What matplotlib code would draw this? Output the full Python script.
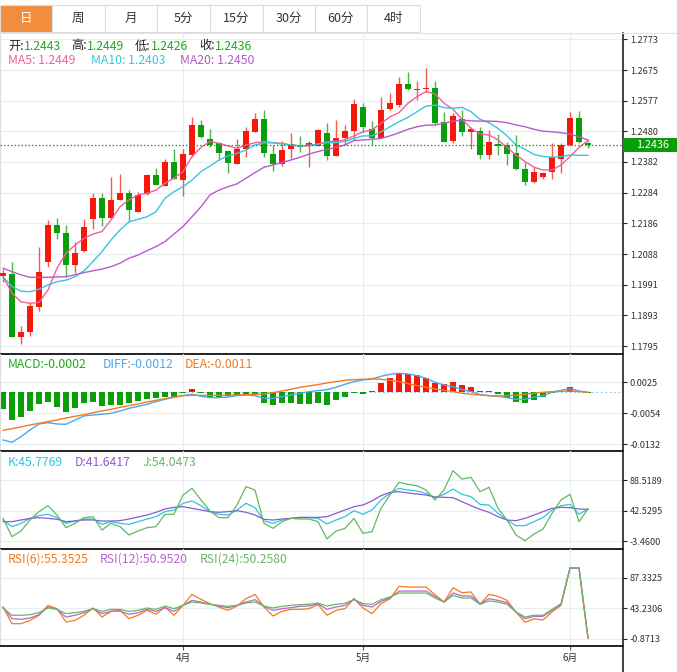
import matplotlib
matplotlib.use('Agg')
import matplotlib.pyplot as plt
from matplotlib.patches import Rectangle
from matplotlib.lines import Line2D
import matplotlib.transforms as mtrans
import numpy as np

plt.rcParams['font.family'] = ['Noto Sans CJK SC', 'DejaVu Sans']

# ---------------- data ----------------
opens = [1.2018, 1.2024, 1.1825, 1.1841, 1.1918, 1.2062, 1.2181, 1.2156, 1.2054, 1.2098,
         1.2201, 1.2268, 1.2204, 1.2260, 1.2283, 1.2223, 1.2279, 1.2340, 1.2306, 1.2381,
         1.2324, 1.2405, 1.2501, 1.2455, 1.2441, 1.2417, 1.2376, 1.2422, 1.2478, 1.2519,
         1.2406, 1.2374, 1.2422, 1.2436, 1.2435, 1.2434, 1.2473, 1.2402, 1.2459, 1.2480,
         1.2557, 1.2487, 1.2459, 1.2551, 1.2563, 1.2630, 1.2612, 1.2614, 1.2618, 1.2509,
         1.2448, 1.2519, 1.2478, 1.2481, 1.2403, 1.2439, 1.2435, 1.2409, 1.2359, 1.2319,
         1.2333, 1.2351, 1.2392, 1.2435, 1.2522, 1.2443]
highs = [1.2040, 1.2064, 1.1859, 1.1936, 1.2112, 1.2197, 1.2203, 1.2181, 1.2126, 1.2200,
         1.2284, 1.2284, 1.2335, 1.2343, 1.2292, 1.2287, 1.2342, 1.2361, 1.2391, 1.2423,
         1.2422, 1.2524, 1.2516, 1.2487, 1.2447, 1.2419, 1.2455, 1.2494, 1.2539, 1.2548,
         1.2436, 1.2449, 1.2473, 1.2465, 1.2450, 1.2487, 1.2507, 1.2516, 1.2500, 1.2583,
         1.2571, 1.2512, 1.2590, 1.2601, 1.2654, 1.2670, 1.2641, 1.2680, 1.2641, 1.2542,
         1.2537, 1.2548, 1.2494, 1.2494, 1.2484, 1.2471, 1.2447, 1.2468, 1.2383, 1.2365,
         1.2349, 1.2443, 1.2441, 1.2542, 1.2545, 1.2449]
lows = [1.2000, 1.1825, 1.1801, 1.1827, 1.1908, 1.2046, 1.2135, 1.2016, 1.2027, 1.2096,
        1.2167, 1.2179, 1.2203, 1.2259, 1.2191, 1.2221, 1.2277, 1.2308, 1.2305, 1.2327,
        1.2274, 1.2399, 1.2459, 1.2428, 1.2388, 1.2346, 1.2375, 1.2399, 1.2477, 1.2399,
        1.2353, 1.2369, 1.2390, 1.2415, 1.2367, 1.2433, 1.2388, 1.2401, 1.2436, 1.2452,
        1.2478, 1.2436, 1.2458, 1.2548, 1.2558, 1.2612, 1.2579, 1.2606, 1.2500, 1.2446,
        1.2443, 1.2465, 1.2422, 1.2392, 1.2392, 1.2404, 1.2372, 1.2356, 1.2308, 1.2314,
        1.2328, 1.2328, 1.2348, 1.2434, 1.2443, 1.2426]
closes = [1.2027, 1.1825, 1.1841, 1.1923, 1.2031, 1.2181, 1.2156, 1.2053, 1.2091, 1.2176,
          1.2268, 1.2204, 1.2261, 1.2283, 1.2229, 1.2277, 1.2340, 1.2309, 1.2381, 1.2328,
          1.2407, 1.2501, 1.2460, 1.2436, 1.2410, 1.2380, 1.2422, 1.2482, 1.2519, 1.2411,
          1.2374, 1.2420, 1.2439, 1.2431, 1.2443, 1.2484, 1.2402, 1.2459, 1.2480, 1.2568,
          1.2493, 1.2459, 1.2548, 1.2569, 1.2630, 1.2613, 1.2616, 1.2618, 1.2507, 1.2447,
          1.2528, 1.2478, 1.2487, 1.2403, 1.2446, 1.2433, 1.2408, 1.2358, 1.2319, 1.2349,
          1.2347, 1.2397, 1.2437, 1.2522, 1.2447, 1.2436]

ma5 = [1.2016, 1.1963, 1.1936, 1.1931, 1.1934, 1.1974, 1.2043, 1.2091, 1.2117, 1.2138,
       1.2152, 1.2160, 1.2197, 1.2239, 1.2261, 1.2277, 1.2282, 1.2292, 1.2314, 1.2330,
       1.2351, 1.2399, 1.2428, 1.2447, 1.2441, 1.2433, 1.2425, 1.2436, 1.2443, 1.2447,
       1.2443, 1.2441, 1.2436, 1.2433, 1.2433, 1.2439, 1.2446, 1.2448, 1.2452, 1.2465,
       1.2478, 1.2484, 1.2505, 1.2526, 1.2539, 1.2569, 1.2590, 1.2606, 1.2599, 1.2569,
       1.2550, 1.2518, 1.2489, 1.2471, 1.2468, 1.2452, 1.2428, 1.2404, 1.2383, 1.2365,
       1.2356, 1.2356, 1.2372, 1.2399, 1.2428, 1.2450]
ma10 = [1.2016, 1.1984, 1.1970, 1.1968, 1.1976, 1.1990, 1.2000, 1.2005, 1.2016, 1.2035,
        1.2064, 1.2096, 1.2133, 1.2165, 1.2191, 1.2199, 1.2207, 1.2223, 1.2266, 1.2287,
        1.2303, 1.2324, 1.2351, 1.2369, 1.2388, 1.2401, 1.2409, 1.2420, 1.2436, 1.2443,
        1.2443, 1.2439, 1.2436, 1.2433, 1.2435, 1.2439, 1.2443, 1.2443, 1.2447, 1.2457,
        1.2465, 1.2465, 1.2478, 1.2494, 1.2510, 1.2524, 1.2542, 1.2560, 1.2563, 1.2555,
        1.2553, 1.2556, 1.2542, 1.2518, 1.2507, 1.2489, 1.2465, 1.2436, 1.2422, 1.2406,
        1.2399, 1.2397, 1.2399, 1.2404, 1.2403, 1.2403]
ma20 = [1.2043, 1.2032, 1.2022, 1.2014, 1.2014, 1.2014, 1.2015, 1.2016, 1.2022, 1.2029,
        1.2035, 1.2040, 1.2048, 1.2059, 1.2075, 1.2085, 1.2099, 1.2112, 1.2128, 1.2152,
        1.2176, 1.2207, 1.2239, 1.2277, 1.2292, 1.2303, 1.2312, 1.2330, 1.2348, 1.2365,
        1.2372, 1.2380, 1.2388, 1.2397, 1.2407, 1.2415, 1.2422, 1.2428, 1.2436, 1.2450,
        1.2452, 1.2454, 1.2457, 1.2465, 1.2475, 1.2486, 1.2494, 1.2499, 1.2500, 1.2505,
        1.2512, 1.2515, 1.2513, 1.2512, 1.2512, 1.2511, 1.2507, 1.2500, 1.2494, 1.2486,
        1.2480, 1.2478, 1.2475, 1.2471, 1.2462, 1.2452]

macd_hist = [-0.00434, -0.00706, -0.00638, -0.00476, -0.00306, -0.00238, -0.00383, -0.00493, -0.00408, -0.00281,
             -0.00238, -0.00340, -0.00323, -0.00323, -0.00264, -0.00213, -0.00179, -0.00136, -0.00128, -0.00111,
             -0.00009, 0.00085, -0.00017, -0.00111, -0.00128, -0.00085, -0.00068, -0.00051, -0.00043, -0.00281,
             -0.00323, -0.00281, -0.00281, -0.00289, -0.00289, -0.00264, -0.00315, -0.00187, -0.00119, -0.00009,
             -0.00051, 0.00034, 0.00238, 0.00357, 0.00468, 0.00459, 0.00442, 0.00374, 0.00230, 0.00204,
             0.00264, 0.00187, 0.00136, 0.00034, 0.00034, -0.00034, -0.00136, -0.00238, -0.00264, -0.00187,
             -0.00119, -0.00009, 0.00034, 0.00128, 0.00017, -0.00017]
diff = [-0.01216, -0.01275, -0.01131, -0.00961, -0.00808, -0.00774, -0.00808, -0.00816, -0.00706, -0.00604,
        -0.00578, -0.00561, -0.00536, -0.00476, -0.00408, -0.00357, -0.00306, -0.00238, -0.00179, -0.00128,
        -0.00085, -0.00051, -0.00102, -0.00136, -0.00136, -0.00119, -0.00085, -0.00068, -0.00085, -0.00153,
        -0.00153, -0.00111, -0.00068, -0.00026, 0.00017, 0.00043, 0.00068, 0.00128, 0.00204, 0.00272,
        0.00315, 0.00340, 0.00408, 0.00459, 0.00485, 0.00468, 0.00425, 0.00357, 0.00255, 0.00187,
        0.00145, 0.00068, 0.00017, -0.00060, -0.00085, -0.00102, -0.00136, -0.00179, -0.00179, -0.00128,
        -0.00085, 0.00000, 0.00051, 0.00094, 0.00034, 0.00000]
dea = [-0.00969, -0.00927, -0.00884, -0.00833, -0.00791, -0.00748, -0.00706, -0.00655, -0.00612, -0.00570,
       -0.00519, -0.00476, -0.00434, -0.00383, -0.00340, -0.00298, -0.00247, -0.00204, -0.00162, -0.00119,
       -0.00085, -0.00077, -0.00077, -0.00077, -0.00077, -0.00068, -0.00068, -0.00060, -0.00051, -0.00043,
       -0.00009, 0.00034, 0.00077, 0.00128, 0.00162, 0.00196, 0.00238, 0.00272, 0.00306, 0.00323,
       0.00332, 0.00340, 0.00332, 0.00306, 0.00272, 0.00221, 0.00170, 0.00128, 0.00085, 0.00051,
       0.00017, -0.00026, -0.00051, -0.00068, -0.00085, -0.00094, -0.00085, -0.00077, -0.00051, -0.00026,
       0.00000, 0.00017, 0.00026, 0.00034, 0.00017, 0.00000]

k_vals = [28.2, 18.2, 23.2, 30.7, 34.7, 36.8, 31.7, 23.2, 26.7, 29.7,
          29.7, 21.7, 25.7, 23.2, 21.7, 25.7, 29.7, 33.2, 40.8, 43.3,
          53.3, 56.9, 49.8, 40.8, 36.8, 35.7, 43.3, 53.3, 46.8, 26.7,
          23.2, 28.2, 30.7, 31.7, 31.7, 30.7, 22.2, 28.2, 33.2, 42.3,
          36.8, 43.3, 58.4, 68.4, 75.9, 73.4, 71.9, 68.4, 61.9, 66.9,
          74.9, 66.9, 63.4, 51.8, 50.8, 38.3, 28.2, 19.7, 19.7, 25.7,
          31.7, 43.3, 49.8, 51.8, 36.8, 44.8]
d_vals = [25.7, 25.7, 28.2, 30.7, 31.7, 30.7, 29.2, 25.7, 26.7, 28.2,
          28.2, 26.7, 26.7, 27.2, 29.7, 32.7, 35.7, 39.8, 44.8, 47.3,
          48.3, 45.8, 43.3, 40.8, 39.8, 40.8, 42.3, 39.8, 35.7, 29.2,
          28.2, 29.7, 30.7, 32.2, 32.2, 32.2, 33.2, 38.3, 43.3, 48.3,
          50.8, 56.9, 64.9, 69.9, 70.9, 68.9, 67.4, 65.9, 62.9, 62.4,
          61.9, 55.8, 49.8, 44.3, 39.8, 33.2, 28.2, 27.2, 30.7, 35.7,
          40.8, 45.8, 47.3, 46.8, 44.8, 44.3]
j_vals = [30.7, 3.1, 11.6, 28.2, 40.8, 49.8, 35.7, 16.6, 23.2, 31.7,
          33.2, 13.1, 23.2, 18.2, 5.6, 11.6, 16.6, 18.2, 36.8, 36.8,
          65.9, 75.9, 58.4, 41.8, 31.7, 31.7, 50.8, 78.4, 73.4, 23.2,
          15.6, 25.7, 30.7, 29.7, 29.7, 25.7, -0.4, 11.6, 15.6, 30.7,
          8.1, 10.6, 45.8, 65.9, 85.0, 82.0, 80.0, 73.4, 58.4, 73.4,
          102.6, 90.0, 92.5, 70.9, 77.5, 45.8, 28.2, 5.6, -3.0, 7.1,
          14.6, 38.3, 58.4, 66.9, 25.7, 44.8]

rsi6 = [44.9, 20.8, 20.8, 25.6, 32.9, 47.3, 42.5, 23.2, 25.6, 32.9,
        43.5, 30.4, 38.6, 40.1, 28.0, 32.9, 40.1, 34.3, 44.9, 32.9,
        47.3, 63.2, 56.0, 49.7, 44.9, 40.1, 46.3, 56.9, 63.2, 44.9,
        31.9, 38.6, 41.5, 41.5, 42.5, 48.3, 32.9, 40.1, 42.5, 56.9,
        43.5, 35.3, 49.7, 56.9, 74.8, 73.8, 73.8, 73.8, 62.7, 52.1,
        72.9, 65.6, 66.6, 48.8, 63.2, 60.3, 54.5, 37.7, 22.7, 28.0,
        26.1, 37.7, 47.3, 101.3, 101.3, 0.1]
rsi12 = [44.9, 28.0, 27.1, 29.0, 33.8, 44.9, 41.5, 30.4, 32.9, 36.7,
         42.5, 35.3, 38.6, 39.1, 34.3, 36.7, 41.5, 38.6, 43.9, 38.6,
         47.3, 54.5, 52.1, 48.8, 46.3, 43.9, 47.3, 52.1, 55.5, 45.9,
         40.1, 42.5, 43.9, 45.9, 46.3, 49.7, 41.5, 44.9, 47.3, 56.0,
         47.3, 44.9, 53.1, 57.9, 68.0, 68.0, 68.0, 68.0, 60.3, 52.1,
         65.1, 60.8, 60.8, 49.7, 56.9, 54.5, 51.2, 37.7, 28.0, 31.4,
         31.4, 40.1, 48.8, 101.3, 101.3, 0.1]
rsi24 = [43.5, 32.9, 32.9, 33.8, 36.7, 43.5, 41.5, 35.3, 36.7, 38.6,
         42.5, 38.6, 41.5, 41.5, 38.6, 40.1, 43.5, 41.5, 46.3, 42.5,
         47.3, 52.1, 50.7, 48.8, 47.3, 45.9, 47.3, 50.7, 52.1, 46.3,
         43.5, 45.9, 47.3, 48.3, 48.8, 50.7, 46.3, 48.8, 50.2, 56.0,
         49.7, 48.8, 55.5, 59.4, 65.1, 65.1, 65.1, 65.1, 57.9, 52.1,
         61.8, 57.9, 57.9, 48.8, 53.6, 52.1, 48.8, 37.7, 30.4, 32.9,
         32.9, 41.5, 49.7, 101.3, 101.3, 0.1]

month_labels = ['4月', '5月', '6月']
month_first_idx = [20, 40, 63]

price_ticks = [1.2773, 1.2675, 1.2577, 1.2480, 1.2382, 1.2284, 1.2186, 1.2088, 1.1991, 1.1893, 1.1795]
macd_ticks = [0.0025, -0.0054, -0.0132]
kdj_ticks = [88.5189, 42.5295, -3.4600]
rsi_ticks = [87.3325, 43.2306, -0.8713]

tabs = ['日', '周', '月', '5分', '15分', '30分', '60分', '4时']

# ---------------- styling ----------------
W, H = 677, 672
RED = '#f5190b'
GREEN = '#0a9e0a'
TXT_GREEN = '#1aab1a'
GRID = '#e8eef2'
AX = '#222222'
C_MA5 = '#f0609a'
C_MA10 = '#38c6de'
C_MA20 = '#b45ccc'
C_DIFF = '#4da6f0'
C_DEA = '#f47a20'
C_K = '#2ec6dc'
C_D = '#8a5ad2'
C_J = '#62b862'
C_R6 = '#f57a1c'
C_R12 = '#b966cc'
C_R24 = '#66b866'

fig = plt.figure(figsize=(W / 100, H / 100), dpi=100)
fig.patch.set_facecolor('white')

def pxbox(top, bottom, right=623):
    return [0.0, 1 - bottom / H, right / W, (bottom - top) / H]

def fpos(x, y):
    return x / W, 1 - y / H

n = len(closes)
x = np.arange(n)
o = np.array(opens); c = np.array(closes); h = np.array(highs); l = np.array(lows)
up = c >= o
XL = (-3 / 9, 620 / 9)

ax0 = fig.add_axes(pxbox(33, 354))
ax1 = fig.add_axes(pxbox(354, 451))
ax2 = fig.add_axes(pxbox(451, 549))
ax3 = fig.add_axes(pxbox(549, 646))
axes = [ax0, ax1, ax2, ax3]

for a in axes:
    a.set_xlim(*XL)
    a.set_facecolor('none')
    a.set_xticks(month_first_idx)
    a.grid(True, color=GRID, lw=0.9, zorder=0)
    a.set_axisbelow(True)
    a.yaxis.tick_right()
    a.tick_params(axis='y', direction='out', length=3, width=0.8, color=AX,
                  labelsize=6.6, labelcolor='#333333', pad=2)
    a.tick_params(axis='x', length=0, labelbottom=False)
    for s in ['top']:
        a.spines[s].set_visible(False)
    a.spines['left'].set_color('#dddddd')
    a.spines['left'].set_linewidth(0.8)
    a.spines['right'].set_color(AX)
    a.spines['right'].set_linewidth(1.2)
    a.spines['bottom'].set_color(AX)
    a.spines['bottom'].set_linewidth(1.4)

# ---- main candles ----
ax0.set_ylim(1.17695, 1.27930)
ax0.set_yticks(price_ticks)
ax0.set_yticklabels([f'{v:.4f}' for v in price_ticks])
wick_cols = np.where(up, '#f6584c', '#4cb54c')
body_cols = np.where(up, RED, GREEN)
ax0.vlines(x, l, h, colors=wick_cols, linewidth=1.0, zorder=2)
body_bot = np.minimum(o, c)
body_h = np.maximum(np.abs(c - o), 0.00035)
ax0.bar(x, body_h, bottom=body_bot, width=0.7, color=body_cols, linewidth=0, zorder=3)
ax0.plot(x, ma5, color=C_MA5, lw=1.0, zorder=4)
ax0.plot(x, ma10, color=C_MA10, lw=1.0, zorder=4)
ax0.plot(x, ma20, color=C_MA20, lw=1.0, zorder=4)
ax0.axhline(closes[-1], color='#1a9a1a', ls=(0, (1.2, 1.6)), lw=0.9, zorder=5)

# last price box
bt = mtrans.blended_transform_factory(ax0.transAxes, ax0.transData)
half = 7 * (1.27930 - 1.17695) / 321
ax0.add_patch(Rectangle((1.0, closes[-1] - half), 54 / 623, 2 * half, transform=bt,
                        facecolor='#0b9c0b', edgecolor='none', clip_on=False, zorder=6))
ax0.text(1.0 + 30 / 623, closes[-1], f'{closes[-1]:.4f}', transform=bt, ha='center', va='center',
         color='white', fontsize=7.8, zorder=7, clip_on=False)

# ---- MACD ----
ax1.set_ylim(-0.01497, 0.009767)
ax1.set_yticks(macd_ticks)
ax1.set_yticklabels([f'{v:.4f}' for v in macd_ticks])
hist = np.array(macd_hist)
ax1.axhline(0, color='#a8cdec', ls=(0, (2, 2)), lw=0.8, zorder=1)
ax1.bar(x, hist, width=0.7, color=np.where(hist >= 0, RED, GREEN), linewidth=0, zorder=2)
ax1.plot(x, diff, color=C_DIFF, lw=1.0, zorder=3)
ax1.plot(x, dea, color=C_DEA, lw=1.0, zorder=3)

# ---- KDJ ----
ax2.set_ylim(-15.52, 132.25)
ax2.set_yticks(kdj_ticks)
ax2.set_yticklabels([f'{v:.4f}' for v in kdj_ticks])
ax2.plot(x, k_vals, color=C_K, lw=0.9)
ax2.plot(x, d_vals, color=C_D, lw=0.9)
ax2.plot(x, j_vals, color=C_J, lw=0.9)

# ---- RSI ----
ax3.set_ylim(-11.48, 128.78)
ax3.set_yticks(rsi_ticks)
ax3.set_yticklabels([f'{v:.4f}' for v in rsi_ticks])
ax3.plot(x, rsi6, color=C_R6, lw=0.9)
ax3.plot(x, rsi12, color=C_R12, lw=0.9)
ax3.plot(x, rsi24, color=C_R24, lw=0.9)
ax3.set_xticklabels(month_labels)
ax3.tick_params(axis='x', length=3, width=0.8, color='#555555', labelbottom=True,
                labelsize=7, labelcolor='#333333', pad=2)

# right spine extension below bottom panel
fig.add_artist(Line2D([623 / W, 623 / W], [0, 1 - 646 / H], transform=fig.transFigure,
                      color=AX, lw=1.2))
# line below tabs
fig.add_artist(Line2D([0, 1], [1 - 33 / H, 1 - 33 / H], transform=fig.transFigure,
                      color='#e3e3e3', lw=0.8))

# ---- tabs ----
tab_edges = [0, 52, 104.5, 157, 210, 262.5, 315, 367, 420]
for i, t in enumerate(tabs):
    x0, x1 = tab_edges[i], tab_edges[i + 1]
    fc = '#f38d3e' if i == 0 else 'white'
    fig.add_artist(Rectangle((x0 / W, 1 - 32 / H), (x1 - x0) / W, 27 / H, transform=fig.transFigure,
                             facecolor=fc, edgecolor='#dcdcdc', lw=0.8))
    fig.text((x0 + x1) / 2 / W, 1 - 18.5 / H, t, ha='center', va='center', fontsize=9,
             color='white' if i == 0 else '#333333')

# ---- header texts ----
def ftext(xp, yp, s, col, fs=8.8):
    fig.text(xp / W, 1 - yp / H, s, ha='left', va='center', color=col, fontsize=fs)

ftext(8, 46, '开:', '#222222'); ftext(24, 46, f'{opens[-1]:.4f}', TXT_GREEN)
ftext(71, 46, '高:', '#222222'); ftext(87, 46, f'{highs[-1]:.4f}', TXT_GREEN)
ftext(135, 46, '低:', '#222222'); ftext(151, 46, f'{lows[-1]:.4f}', TXT_GREEN)
ftext(199, 46, '收:', '#222222'); ftext(215, 46, f'{closes[-1]:.4f}', TXT_GREEN)
ftext(8, 61, 'MA5: 1.2449', C_MA5)
ftext(91, 61, 'MA10: 1.2403', C_MA10)
ftext(180, 61, 'MA20: 1.2450', C_MA20)

ftext(8, 364, 'MACD:-0.0002', TXT_GREEN)
ftext(103, 364, 'DIFF:-0.0012', C_DIFF)
ftext(185, 364, 'DEA:-0.0011', C_DEA)

ftext(8, 462, 'K:45.7769', C_K)
ftext(75, 462, 'D:41.6417', C_D)
ftext(143, 462, 'J:54.0473', C_J)

ftext(8, 559, 'RSI(6):55.3525', C_R6)
ftext(100, 559, 'RSI(12):50.9520', C_R12)
ftext(200, 559, 'RSI(24):50.2580', C_R24)

fig.savefig('out.png', dpi=100, facecolor='white')
